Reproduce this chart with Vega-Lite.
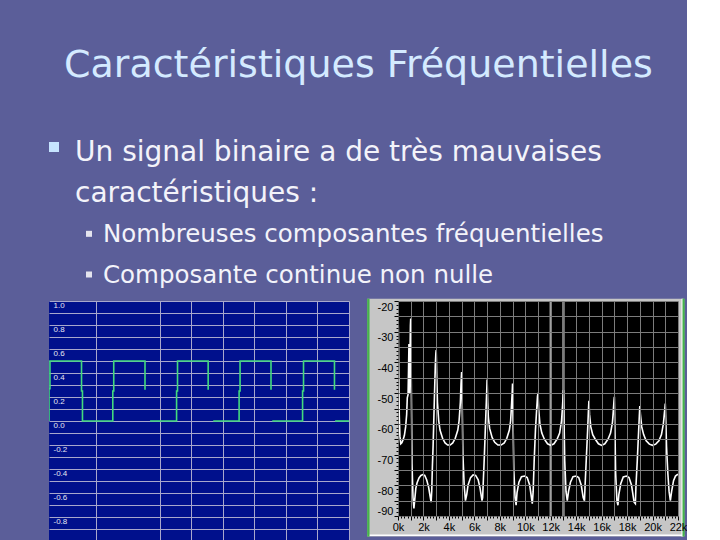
{
  "$schema": "https://vega.github.io/schema/vega-lite/v6.json",
  "background": "#5b5e99",
  "padding": {"left": 49, "top": 47, "right": 0, "bottom": 0},
  "title": {"text": "Caractéristiques Fréquentielles", "font": "DejaVu Sans", "fontSize": 38, "fontWeight": "normal", "color": "#d4eaff", "anchor": "start", "align": "left", "dx": 15, "offset": 52, "frame": "group"},
  "config": {"view": {"stroke": null}},
  "spacing": 7,
  "vconcat": [
    {
      "width": 28,
      "height": 153,
      "data": {"values": [
        {"line": "l1", "level": "1", "text": "Un signal binaire a de très mauvaises", "bullet": true},
        {"line": "l2", "level": "1", "text": "caractéristiques :", "bullet": false},
        {"line": "l3", "level": "2", "text": "Nombreuses composantes fréquentielles", "bullet": true},
        {"line": "l4", "level": "2", "text": "Composante continue non nulle", "bullet": true}
      ]},
      "encoding": {
        "x": {"field": "level", "type": "nominal", "scale": {"type": "point", "domain": ["1", "2"], "padding": 0}, "axis": null},
        "y": {"field": "line", "type": "nominal", "scale": {"type": "point", "domain": ["l1", "l2", "l3", "l4"], "padding": 0.381, "align": 0.774}, "axis": null}
      },
      "layer": [
        {"transform": [{"filter": "datum.level == '1'"}], "mark": {"type": "text", "align": "left", "baseline": "alphabetic", "font": "DejaVu Sans", "fontSize": 28, "color": "#f3f3fa", "xOffset": 26}, "encoding": {"text": {"field": "text"}}},
        {"transform": [{"filter": "datum.level == '2'"}], "mark": {"type": "text", "align": "left", "baseline": "alphabetic", "font": "DejaVu Sans", "fontSize": 24.5, "color": "#f3f3fa", "xOffset": 26}, "encoding": {"text": {"field": "text"}}},
        {"transform": [{"filter": "datum.level == '1' && datum.bullet"}], "mark": {"type": "point", "shape": "square", "filled": true, "size": 100, "color": "#c6e4ff", "opacity": 1, "xOffset": 5, "yOffset": -14}},
        {"transform": [{"filter": "datum.level == '2' && datum.bullet"}], "mark": {"type": "point", "shape": "square", "filled": true, "size": 36, "color": "#e4e4ee", "opacity": 1, "xOffset": 12, "yOffset": -8.5}}
      ]
    },
    {
      "spacing": 17,
      "hconcat": [
        {
          "width": 300,
          "height": 240,
          "view": {"fill": "#00108c", "stroke": null},
          "data": {"values": [
            {"t": 0, "v": 0, "seg": 1, "i": 0},
            {"t": 0, "v": 0.27, "seg": 1, "i": 1},
            {"t": 0.03, "v": 0.27, "seg": 1, "i": 2},
            {"t": 0.03, "v": 0.5, "seg": 1, "i": 3},
            {"t": 1.03, "v": 0.5, "seg": 1, "i": 4},
            {"t": 1.03, "v": 0.25, "seg": 1, "i": 5},
            {"t": 1.06, "v": 0.25, "seg": 1, "i": 6},
            {"t": 1.06, "v": 0, "seg": 1, "i": 7},
            {"t": 2.02, "v": 0, "seg": 1, "i": 8},
            {"t": 2.02, "v": 0.25, "seg": 1, "i": 9},
            {"t": 2.05, "v": 0.25, "seg": 1, "i": 10},
            {"t": 2.05, "v": 0.5, "seg": 1, "i": 11},
            {"t": 3.04, "v": 0.5, "seg": 1, "i": 12},
            {"t": 3.04, "v": 0.26, "seg": 1, "i": 13},
            {"t": 3.2, "v": 0, "seg": 2, "i": 14},
            {"t": 4.04, "v": 0, "seg": 2, "i": 15},
            {"t": 4.04, "v": 0.25, "seg": 2, "i": 16},
            {"t": 4.07, "v": 0.25, "seg": 2, "i": 17},
            {"t": 4.07, "v": 0.5, "seg": 2, "i": 18},
            {"t": 5.04, "v": 0.5, "seg": 2, "i": 19},
            {"t": 5.04, "v": 0.26, "seg": 2, "i": 20},
            {"t": 5.2, "v": 0, "seg": 3, "i": 21},
            {"t": 6.02, "v": 0, "seg": 3, "i": 22},
            {"t": 6.02, "v": 0.25, "seg": 3, "i": 23},
            {"t": 6.05, "v": 0.25, "seg": 3, "i": 24},
            {"t": 6.05, "v": 0.5, "seg": 3, "i": 25},
            {"t": 7.03, "v": 0.5, "seg": 3, "i": 26},
            {"t": 7.03, "v": 0.26, "seg": 3, "i": 27},
            {"t": 7.07, "v": 0, "seg": 4, "i": 28},
            {"t": 8.03, "v": 0, "seg": 4, "i": 29},
            {"t": 8.03, "v": 0.25, "seg": 4, "i": 30},
            {"t": 8.06, "v": 0.25, "seg": 4, "i": 31},
            {"t": 8.06, "v": 0.5, "seg": 4, "i": 32},
            {"t": 9.04, "v": 0.5, "seg": 4, "i": 33},
            {"t": 9.04, "v": 0.26, "seg": 4, "i": 34},
            {"t": 9.06, "v": 0, "seg": 5, "i": 35},
            {"t": 9.5, "v": 0, "seg": 5, "i": 36}
          ]},
          "mark": {"type": "line", "color": "#42da7e", "strokeWidth": 1.6, "clip": true},
          "encoding": {
            "x": {"field": "t", "type": "quantitative", "scale": {"domain": [0, 9.5], "nice": false, "zero": false},
                  "axis": {"values": [1.5, 3.5, 4.5, 5.5, 6.5, 7.5, 8.5, 9.5], "grid": true, "gridColor": "#a8a8cc", "gridWidth": 1, "labels": false, "ticks": false, "domain": false, "title": null}},
            "y": {"field": "v", "type": "quantitative", "scale": {"domain": [-1, 1], "nice": false, "zero": false},
                  "axis": {"values": [-1, -0.9, -0.8, -0.7, -0.6, -0.5, -0.4, -0.3, -0.2, -0.1, 0, 0.1, 0.2, 0.3, 0.4, 0.5, 0.6, 0.7, 0.8, 0.9, 1],
                           "grid": true, "gridColor": "#a8a8cc", "gridWidth": 1, "ticks": false, "tickSize": 0, "domain": false, "title": null,
                           "labelAlign": "left", "labelBaseline": "top", "labelPadding": -4, "labelFont": "Liberation Sans", "labelFontSize": 8, "labelColor": "#e6e6f2", "labelOverlap": false, "labelFlush": false,
                           "labelExpr": "(round(abs(datum.value) * 10) % 2 == 0 && datum.value > -0.95) ? ((datum.value < -0.001 ? '-' : '') + format(abs(datum.value), '.1f')) : ''"}},
            "detail": {"field": "seg"},
            "order": {"field": "i"}
          }
        },
        {
          "width": 280,
          "height": 215,
          "layer": [
            {
              "data": {"values": [{}]},
              "mark": {"type": "rect", "color": "#c6c6c6"},
              "encoding": {
                "x": {"datum": -2412, "type": "quantitative", "scale": {"domain": [0, 22000], "nice": false, "zero": false},
                      "axis": {"values": [0,250,500,750,1000,1250,1500,1750,2000,2250,2500,2750,3000,3250,3500,3750,4000,4250,4500,4750,5000,5250,5500,5750,6000,6250,6500,6750,7000,7250,7500,7750,8000,8250,8500,8750,9000,9250,9500,9750,10000,10250,10500,10750,11000,11250,11500,11750,12000,12250,12500,12750,13000,13250,13500,13750,14000,14250,14500,14750,15000,15250,15500,15750,16000,16250,16500,16750,17000,17250,17500,17750,18000,18250,18500,18750,19000,19250,19500,19750,20000,20250,20500,20750,21000,21250,21500,21750,22000], "grid": true, "gridColor": "#7c7c7c", "gridWidth": 1, "gridOpacity": {"condition": {"test": "datum.value % 1000 == 0", "value": 1}, "value": 0}, "ticks": true, "tickColor": "#000000", "tickSize": {"condition": {"test": "datum.value % 1000 == 0", "value": 4}, "value": 2}, "domain": false, "title": null, "labelExpr": "datum.value % 2000 == 0 ? (datum.value / 1000) + 'k' : ''", "labelFont": "Liberation Sans", "labelFontSize": 11, "labelColor": "#000000", "labelPadding": 1, "labelOverlap": false, "labelFlush": false, "zindex": 1}},
                "x2": {"datum": 22495},
                "y": {"datum": -19.25, "type": "quantitative", "scale": {"domain": [-90, -20], "nice": false, "zero": false},
                      "axis": {"values": [-90,-88.75,-87.5,-86.25,-85,-83.75,-82.5,-81.25,-80,-78.75,-77.5,-76.25,-75,-73.75,-72.5,-71.25,-70,-68.75,-67.5,-66.25,-65,-63.75,-62.5,-61.25,-60,-58.75,-57.5,-56.25,-55,-53.75,-52.5,-51.25,-50,-48.75,-47.5,-46.25,-45,-43.75,-42.5,-41.25,-40,-38.75,-37.5,-36.25,-35,-33.75,-32.5,-31.25,-30,-28.75,-27.5,-26.25,-25,-23.75,-22.5,-21.25,-20], "grid": true, "gridColor": "#7c7c7c", "gridWidth": 1, "gridOpacity": {"condition": {"test": "datum.value % 5 == 0", "value": 1}, "value": 0}, "ticks": true, "tickColor": "#000000", "tickSize": {"condition": {"test": "datum.value % 5 == 0", "value": 4}, "value": 2}, "domain": false, "title": null, "labelExpr": "datum.value % 10 == 0 ? '-' + abs(datum.value) : ''", "labelBaseline": {"condition": {"test": "datum.value <= -89", "value": "bottom"}, "value": "top"}, "labelFont": "Liberation Sans", "labelFontSize": 11, "labelColor": "#000000", "labelPadding": 1, "labelOverlap": false, "labelFlush": false, "zindex": 1}},
                "y2": {"datum": -96.7}
              }
            },
            {
              "data": {"values": [{}]},
              "mark": {"type": "rule", "color": "#ffffff", "strokeWidth": 1.5},
              "encoding": {
                "x": {"datum": -2412, "type": "quantitative", "scale": {"domain": [0, 22000], "nice": false, "zero": false},
                      "axis": {"values": [0,250,500,750,1000,1250,1500,1750,2000,2250,2500,2750,3000,3250,3500,3750,4000,4250,4500,4750,5000,5250,5500,5750,6000,6250,6500,6750,7000,7250,7500,7750,8000,8250,8500,8750,9000,9250,9500,9750,10000,10250,10500,10750,11000,11250,11500,11750,12000,12250,12500,12750,13000,13250,13500,13750,14000,14250,14500,14750,15000,15250,15500,15750,16000,16250,16500,16750,17000,17250,17500,17750,18000,18250,18500,18750,19000,19250,19500,19750,20000,20250,20500,20750,21000,21250,21500,21750,22000], "grid": true, "gridColor": "#7c7c7c", "gridWidth": 1, "gridOpacity": {"condition": {"test": "datum.value % 1000 == 0", "value": 1}, "value": 0}, "ticks": true, "tickColor": "#000000", "tickSize": {"condition": {"test": "datum.value % 1000 == 0", "value": 4}, "value": 2}, "domain": false, "title": null, "labelExpr": "datum.value % 2000 == 0 ? (datum.value / 1000) + 'k' : ''", "labelFont": "Liberation Sans", "labelFontSize": 11, "labelColor": "#000000", "labelPadding": 1, "labelOverlap": false, "labelFlush": false, "zindex": 1}},
                "x2": {"datum": 22495},
                "y": {"datum": -96.3, "type": "quantitative", "scale": {"domain": [-90, -20], "nice": false, "zero": false},
                      "axis": {"values": [-90,-88.75,-87.5,-86.25,-85,-83.75,-82.5,-81.25,-80,-78.75,-77.5,-76.25,-75,-73.75,-72.5,-71.25,-70,-68.75,-67.5,-66.25,-65,-63.75,-62.5,-61.25,-60,-58.75,-57.5,-56.25,-55,-53.75,-52.5,-51.25,-50,-48.75,-47.5,-46.25,-45,-43.75,-42.5,-41.25,-40,-38.75,-37.5,-36.25,-35,-33.75,-32.5,-31.25,-30,-28.75,-27.5,-26.25,-25,-23.75,-22.5,-21.25,-20], "grid": true, "gridColor": "#7c7c7c", "gridWidth": 1, "gridOpacity": {"condition": {"test": "datum.value % 5 == 0", "value": 1}, "value": 0}, "ticks": true, "tickColor": "#000000", "tickSize": {"condition": {"test": "datum.value % 5 == 0", "value": 4}, "value": 2}, "domain": false, "title": null, "labelExpr": "datum.value % 10 == 0 ? '-' + abs(datum.value) : ''", "labelBaseline": {"condition": {"test": "datum.value <= -89", "value": "bottom"}, "value": "top"}, "labelFont": "Liberation Sans", "labelFontSize": 11, "labelColor": "#000000", "labelPadding": 1, "labelOverlap": false, "labelFlush": false, "zindex": 1}}
              }
            },
            {
              "data": {"values": [{}]},
              "mark": {"type": "rule", "color": "#ffffff", "strokeWidth": 1.5},
              "encoding": {
                "x": {"datum": 22330, "type": "quantitative", "scale": {"domain": [0, 22000], "nice": false, "zero": false},
                      "axis": {"values": [0,250,500,750,1000,1250,1500,1750,2000,2250,2500,2750,3000,3250,3500,3750,4000,4250,4500,4750,5000,5250,5500,5750,6000,6250,6500,6750,7000,7250,7500,7750,8000,8250,8500,8750,9000,9250,9500,9750,10000,10250,10500,10750,11000,11250,11500,11750,12000,12250,12500,12750,13000,13250,13500,13750,14000,14250,14500,14750,15000,15250,15500,15750,16000,16250,16500,16750,17000,17250,17500,17750,18000,18250,18500,18750,19000,19250,19500,19750,20000,20250,20500,20750,21000,21250,21500,21750,22000], "grid": true, "gridColor": "#7c7c7c", "gridWidth": 1, "gridOpacity": {"condition": {"test": "datum.value % 1000 == 0", "value": 1}, "value": 0}, "ticks": true, "tickColor": "#000000", "tickSize": {"condition": {"test": "datum.value % 1000 == 0", "value": 4}, "value": 2}, "domain": false, "title": null, "labelExpr": "datum.value % 2000 == 0 ? (datum.value / 1000) + 'k' : ''", "labelFont": "Liberation Sans", "labelFontSize": 11, "labelColor": "#000000", "labelPadding": 1, "labelOverlap": false, "labelFlush": false, "zindex": 1}},
                "y": {"datum": -19.25, "type": "quantitative", "scale": {"domain": [-90, -20], "nice": false, "zero": false},
                      "axis": {"values": [-90,-88.75,-87.5,-86.25,-85,-83.75,-82.5,-81.25,-80,-78.75,-77.5,-76.25,-75,-73.75,-72.5,-71.25,-70,-68.75,-67.5,-66.25,-65,-63.75,-62.5,-61.25,-60,-58.75,-57.5,-56.25,-55,-53.75,-52.5,-51.25,-50,-48.75,-47.5,-46.25,-45,-43.75,-42.5,-41.25,-40,-38.75,-37.5,-36.25,-35,-33.75,-32.5,-31.25,-30,-28.75,-27.5,-26.25,-25,-23.75,-22.5,-21.25,-20], "grid": true, "gridColor": "#7c7c7c", "gridWidth": 1, "gridOpacity": {"condition": {"test": "datum.value % 5 == 0", "value": 1}, "value": 0}, "ticks": true, "tickColor": "#000000", "tickSize": {"condition": {"test": "datum.value % 5 == 0", "value": 4}, "value": 2}, "domain": false, "title": null, "labelExpr": "datum.value % 10 == 0 ? '-' + abs(datum.value) : ''", "labelBaseline": {"condition": {"test": "datum.value <= -89", "value": "bottom"}, "value": "top"}, "labelFont": "Liberation Sans", "labelFontSize": 11, "labelColor": "#000000", "labelPadding": 1, "labelOverlap": false, "labelFlush": false, "zindex": 1}},
                "y2": {"datum": -96.7}
              }
            },
            {
              "data": {"values": [{}]},
              "mark": {"type": "rule", "color": "#46b34c", "strokeWidth": 2.2},
              "encoding": {
                "x": {"datum": 22440, "type": "quantitative", "scale": {"domain": [0, 22000], "nice": false, "zero": false},
                      "axis": {"values": [0,250,500,750,1000,1250,1500,1750,2000,2250,2500,2750,3000,3250,3500,3750,4000,4250,4500,4750,5000,5250,5500,5750,6000,6250,6500,6750,7000,7250,7500,7750,8000,8250,8500,8750,9000,9250,9500,9750,10000,10250,10500,10750,11000,11250,11500,11750,12000,12250,12500,12750,13000,13250,13500,13750,14000,14250,14500,14750,15000,15250,15500,15750,16000,16250,16500,16750,17000,17250,17500,17750,18000,18250,18500,18750,19000,19250,19500,19750,20000,20250,20500,20750,21000,21250,21500,21750,22000], "grid": true, "gridColor": "#7c7c7c", "gridWidth": 1, "gridOpacity": {"condition": {"test": "datum.value % 1000 == 0", "value": 1}, "value": 0}, "ticks": true, "tickColor": "#000000", "tickSize": {"condition": {"test": "datum.value % 1000 == 0", "value": 4}, "value": 2}, "domain": false, "title": null, "labelExpr": "datum.value % 2000 == 0 ? (datum.value / 1000) + 'k' : ''", "labelFont": "Liberation Sans", "labelFontSize": 11, "labelColor": "#000000", "labelPadding": 1, "labelOverlap": false, "labelFlush": false, "zindex": 1}},
                "y": {"datum": -19.25, "type": "quantitative", "scale": {"domain": [-90, -20], "nice": false, "zero": false},
                      "axis": {"values": [-90,-88.75,-87.5,-86.25,-85,-83.75,-82.5,-81.25,-80,-78.75,-77.5,-76.25,-75,-73.75,-72.5,-71.25,-70,-68.75,-67.5,-66.25,-65,-63.75,-62.5,-61.25,-60,-58.75,-57.5,-56.25,-55,-53.75,-52.5,-51.25,-50,-48.75,-47.5,-46.25,-45,-43.75,-42.5,-41.25,-40,-38.75,-37.5,-36.25,-35,-33.75,-32.5,-31.25,-30,-28.75,-27.5,-26.25,-25,-23.75,-22.5,-21.25,-20], "grid": true, "gridColor": "#7c7c7c", "gridWidth": 1, "gridOpacity": {"condition": {"test": "datum.value % 5 == 0", "value": 1}, "value": 0}, "ticks": true, "tickColor": "#000000", "tickSize": {"condition": {"test": "datum.value % 5 == 0", "value": 4}, "value": 2}, "domain": false, "title": null, "labelExpr": "datum.value % 10 == 0 ? '-' + abs(datum.value) : ''", "labelBaseline": {"condition": {"test": "datum.value <= -89", "value": "bottom"}, "value": "top"}, "labelFont": "Liberation Sans", "labelFontSize": 11, "labelColor": "#000000", "labelPadding": 1, "labelOverlap": false, "labelFlush": false, "zindex": 1}},
                "y2": {"datum": -96.7}
              }
            },
            {
              "data": {"values": [{}]},
              "mark": {"type": "rule", "color": "#46b34c", "strokeWidth": 2.4},
              "encoding": {
                "x": {"datum": -2330, "type": "quantitative", "scale": {"domain": [0, 22000], "nice": false, "zero": false},
                      "axis": {"values": [0,250,500,750,1000,1250,1500,1750,2000,2250,2500,2750,3000,3250,3500,3750,4000,4250,4500,4750,5000,5250,5500,5750,6000,6250,6500,6750,7000,7250,7500,7750,8000,8250,8500,8750,9000,9250,9500,9750,10000,10250,10500,10750,11000,11250,11500,11750,12000,12250,12500,12750,13000,13250,13500,13750,14000,14250,14500,14750,15000,15250,15500,15750,16000,16250,16500,16750,17000,17250,17500,17750,18000,18250,18500,18750,19000,19250,19500,19750,20000,20250,20500,20750,21000,21250,21500,21750,22000], "grid": true, "gridColor": "#7c7c7c", "gridWidth": 1, "gridOpacity": {"condition": {"test": "datum.value % 1000 == 0", "value": 1}, "value": 0}, "ticks": true, "tickColor": "#000000", "tickSize": {"condition": {"test": "datum.value % 1000 == 0", "value": 4}, "value": 2}, "domain": false, "title": null, "labelExpr": "datum.value % 2000 == 0 ? (datum.value / 1000) + 'k' : ''", "labelFont": "Liberation Sans", "labelFontSize": 11, "labelColor": "#000000", "labelPadding": 1, "labelOverlap": false, "labelFlush": false, "zindex": 1}},
                "y": {"datum": -19.25, "type": "quantitative", "scale": {"domain": [-90, -20], "nice": false, "zero": false},
                      "axis": {"values": [-90,-88.75,-87.5,-86.25,-85,-83.75,-82.5,-81.25,-80,-78.75,-77.5,-76.25,-75,-73.75,-72.5,-71.25,-70,-68.75,-67.5,-66.25,-65,-63.75,-62.5,-61.25,-60,-58.75,-57.5,-56.25,-55,-53.75,-52.5,-51.25,-50,-48.75,-47.5,-46.25,-45,-43.75,-42.5,-41.25,-40,-38.75,-37.5,-36.25,-35,-33.75,-32.5,-31.25,-30,-28.75,-27.5,-26.25,-25,-23.75,-22.5,-21.25,-20], "grid": true, "gridColor": "#7c7c7c", "gridWidth": 1, "gridOpacity": {"condition": {"test": "datum.value % 5 == 0", "value": 1}, "value": 0}, "ticks": true, "tickColor": "#000000", "tickSize": {"condition": {"test": "datum.value % 5 == 0", "value": 4}, "value": 2}, "domain": false, "title": null, "labelExpr": "datum.value % 10 == 0 ? '-' + abs(datum.value) : ''", "labelBaseline": {"condition": {"test": "datum.value <= -89", "value": "bottom"}, "value": "top"}, "labelFont": "Liberation Sans", "labelFontSize": 11, "labelColor": "#000000", "labelPadding": 1, "labelOverlap": false, "labelFlush": false, "zindex": 1}},
                "y2": {"datum": -96.7}
              }
            },
            {
              "data": {"values": [{}]},
              "mark": {"type": "rect", "color": "#000000"},
              "encoding": {
                "x": {"datum": 0, "type": "quantitative", "scale": {"domain": [0, 22000], "nice": false, "zero": false},
                      "axis": {"values": [0,250,500,750,1000,1250,1500,1750,2000,2250,2500,2750,3000,3250,3500,3750,4000,4250,4500,4750,5000,5250,5500,5750,6000,6250,6500,6750,7000,7250,7500,7750,8000,8250,8500,8750,9000,9250,9500,9750,10000,10250,10500,10750,11000,11250,11500,11750,12000,12250,12500,12750,13000,13250,13500,13750,14000,14250,14500,14750,15000,15250,15500,15750,16000,16250,16500,16750,17000,17250,17500,17750,18000,18250,18500,18750,19000,19250,19500,19750,20000,20250,20500,20750,21000,21250,21500,21750,22000], "grid": true, "gridColor": "#7c7c7c", "gridWidth": 1, "gridOpacity": {"condition": {"test": "datum.value % 1000 == 0", "value": 1}, "value": 0}, "ticks": true, "tickColor": "#000000", "tickSize": {"condition": {"test": "datum.value % 1000 == 0", "value": 4}, "value": 2}, "domain": false, "title": null, "labelExpr": "datum.value % 2000 == 0 ? (datum.value / 1000) + 'k' : ''", "labelFont": "Liberation Sans", "labelFontSize": 11, "labelColor": "#000000", "labelPadding": 1, "labelOverlap": false, "labelFlush": false, "zindex": 1}},
                "x2": {"datum": 22000},
                "y": {"datum": -90, "type": "quantitative", "scale": {"domain": [-90, -20], "nice": false, "zero": false},
                      "axis": {"values": [-90,-88.75,-87.5,-86.25,-85,-83.75,-82.5,-81.25,-80,-78.75,-77.5,-76.25,-75,-73.75,-72.5,-71.25,-70,-68.75,-67.5,-66.25,-65,-63.75,-62.5,-61.25,-60,-58.75,-57.5,-56.25,-55,-53.75,-52.5,-51.25,-50,-48.75,-47.5,-46.25,-45,-43.75,-42.5,-41.25,-40,-38.75,-37.5,-36.25,-35,-33.75,-32.5,-31.25,-30,-28.75,-27.5,-26.25,-25,-23.75,-22.5,-21.25,-20], "grid": true, "gridColor": "#7c7c7c", "gridWidth": 1, "gridOpacity": {"condition": {"test": "datum.value % 5 == 0", "value": 1}, "value": 0}, "ticks": true, "tickColor": "#000000", "tickSize": {"condition": {"test": "datum.value % 5 == 0", "value": 4}, "value": 2}, "domain": false, "title": null, "labelExpr": "datum.value % 10 == 0 ? '-' + abs(datum.value) : ''", "labelBaseline": {"condition": {"test": "datum.value <= -89", "value": "bottom"}, "value": "top"}, "labelFont": "Liberation Sans", "labelFontSize": 11, "labelColor": "#000000", "labelPadding": 1, "labelOverlap": false, "labelFlush": false, "zindex": 1}},
                "y2": {"datum": -20}
              }
            },
            {
              "data": {"values": [{"f": 12000}, {"f": 13000}]},
              "mark": {"type": "rule", "color": "#a0a0a0", "strokeWidth": 2.4},
              "encoding": {
                "x": {"field": "f", "type": "quantitative", "scale": {"domain": [0, 22000], "nice": false, "zero": false},
                      "axis": {"values": [0,250,500,750,1000,1250,1500,1750,2000,2250,2500,2750,3000,3250,3500,3750,4000,4250,4500,4750,5000,5250,5500,5750,6000,6250,6500,6750,7000,7250,7500,7750,8000,8250,8500,8750,9000,9250,9500,9750,10000,10250,10500,10750,11000,11250,11500,11750,12000,12250,12500,12750,13000,13250,13500,13750,14000,14250,14500,14750,15000,15250,15500,15750,16000,16250,16500,16750,17000,17250,17500,17750,18000,18250,18500,18750,19000,19250,19500,19750,20000,20250,20500,20750,21000,21250,21500,21750,22000], "grid": true, "gridColor": "#7c7c7c", "gridWidth": 1, "gridOpacity": {"condition": {"test": "datum.value % 1000 == 0", "value": 1}, "value": 0}, "ticks": true, "tickColor": "#000000", "tickSize": {"condition": {"test": "datum.value % 1000 == 0", "value": 4}, "value": 2}, "domain": false, "title": null, "labelExpr": "datum.value % 2000 == 0 ? (datum.value / 1000) + 'k' : ''", "labelFont": "Liberation Sans", "labelFontSize": 11, "labelColor": "#000000", "labelPadding": 1, "labelOverlap": false, "labelFlush": false, "zindex": 1}},
                "y": {"datum": -20, "type": "quantitative", "scale": {"domain": [-90, -20], "nice": false, "zero": false},
                      "axis": {"values": [-90,-88.75,-87.5,-86.25,-85,-83.75,-82.5,-81.25,-80,-78.75,-77.5,-76.25,-75,-73.75,-72.5,-71.25,-70,-68.75,-67.5,-66.25,-65,-63.75,-62.5,-61.25,-60,-58.75,-57.5,-56.25,-55,-53.75,-52.5,-51.25,-50,-48.75,-47.5,-46.25,-45,-43.75,-42.5,-41.25,-40,-38.75,-37.5,-36.25,-35,-33.75,-32.5,-31.25,-30,-28.75,-27.5,-26.25,-25,-23.75,-22.5,-21.25,-20], "grid": true, "gridColor": "#7c7c7c", "gridWidth": 1, "gridOpacity": {"condition": {"test": "datum.value % 5 == 0", "value": 1}, "value": 0}, "ticks": true, "tickColor": "#000000", "tickSize": {"condition": {"test": "datum.value % 5 == 0", "value": 4}, "value": 2}, "domain": false, "title": null, "labelExpr": "datum.value % 10 == 0 ? '-' + abs(datum.value) : ''", "labelBaseline": {"condition": {"test": "datum.value <= -89", "value": "bottom"}, "value": "top"}, "labelFont": "Liberation Sans", "labelFontSize": 11, "labelColor": "#000000", "labelPadding": 1, "labelOverlap": false, "labelFlush": false, "zindex": 1}},
                "y2": {"datum": -90}
              }
            },
            {
              "data": {"values": [
                {"f": 0, "db": -23}, {"f": 30, "db": -30}, {"f": 60, "db": -41}, {"f": 100, "db": -57}, {"f": 150, "db": -64}, {"f": 220, "db": -66.5}, {"f": 300, "db": -66.2}, {"f": 400, "db": -65.2}, {"f": 500, "db": -63.8}, {"f": 600, "db": -61}, {"f": 680, "db": -57}, {"f": 730, "db": -51.5}, {"f": 790, "db": -50.5}, {"f": 830, "db": -42}, {"f": 860, "db": -34}, {"f": 885, "db": -45}, {"f": 915, "db": -50}, {"f": 945, "db": -37}, {"f": 975, "db": -28}, {"f": 1000, "db": -25.7},
                {"f": 1040, "db": -45}, {"f": 1070, "db": -58}, {"f": 1100, "db": -73}, {"f": 1180, "db": -84}, {"f": 1250, "db": -87.5}, {"f": 1320, "db": -84.5}, {"f": 1400, "db": -81}, {"f": 1500, "db": -79.2}, {"f": 1650, "db": -77.6}, {"f": 1800, "db": -76.8}, {"f": 1950, "db": -76.5}, {"f": 2100, "db": -76.8}, {"f": 2250, "db": -78.2}, {"f": 2400, "db": -80.5}, {"f": 2500, "db": -83}, {"f": 2600, "db": -85.5}, {"f": 2650, "db": -82}, {"f": 2700, "db": -74}, {"f": 2760, "db": -67}, {"f": 2850, "db": -53}, {"f": 2930, "db": -41}, {"f": 2975, "db": -37}, {"f": 3000, "db": -36},
                {"f": 3050, "db": -45}, {"f": 3100, "db": -53}, {"f": 3200, "db": -59}, {"f": 3300, "db": -62}, {"f": 3500, "db": -64.7}, {"f": 3700, "db": -66.2}, {"f": 3900, "db": -66.9}, {"f": 4100, "db": -66.9}, {"f": 4300, "db": -66.2}, {"f": 4500, "db": -64.7}, {"f": 4700, "db": -62}, {"f": 4800, "db": -59}, {"f": 4900, "db": -53}, {"f": 4950, "db": -47}, {"f": 5000, "db": -43.1},
                {"f": 5050, "db": -55}, {"f": 5100, "db": -70}, {"f": 5200, "db": -80}, {"f": 5300, "db": -85}, {"f": 5400, "db": -83}, {"f": 5500, "db": -80}, {"f": 5700, "db": -77.5}, {"f": 5900, "db": -76.6}, {"f": 6100, "db": -76.8}, {"f": 6300, "db": -78.2}, {"f": 6450, "db": -81}, {"f": 6600, "db": -85}, {"f": 6650, "db": -84}, {"f": 6700, "db": -79}, {"f": 6780, "db": -71}, {"f": 6850, "db": -63}, {"f": 6920, "db": -55}, {"f": 6970, "db": -49.5}, {"f": 7000, "db": -45.6},
                {"f": 7050, "db": -53}, {"f": 7100, "db": -58}, {"f": 7200, "db": -61.5}, {"f": 7400, "db": -64.5}, {"f": 7600, "db": -66}, {"f": 7850, "db": -66.9}, {"f": 8100, "db": -66.9}, {"f": 8350, "db": -66.2}, {"f": 8550, "db": -64.7}, {"f": 8750, "db": -62}, {"f": 8850, "db": -59}, {"f": 8930, "db": -53}, {"f": 8970, "db": -50}, {"f": 9000, "db": -46.9},
                {"f": 9050, "db": -62}, {"f": 9100, "db": -75}, {"f": 9200, "db": -84}, {"f": 9280, "db": -86.5}, {"f": 9350, "db": -82.5}, {"f": 9500, "db": -79}, {"f": 9700, "db": -77.2}, {"f": 9950, "db": -77}, {"f": 10150, "db": -77.5}, {"f": 10350, "db": -80}, {"f": 10550, "db": -86}, {"f": 10620, "db": -82}, {"f": 10700, "db": -72}, {"f": 10800, "db": -62}, {"f": 10900, "db": -55}, {"f": 10960, "db": -51}, {"f": 11000, "db": -49.9},
                {"f": 11050, "db": -55}, {"f": 11150, "db": -60}, {"f": 11300, "db": -63}, {"f": 11500, "db": -65}, {"f": 11750, "db": -66.5}, {"f": 12000, "db": -67}, {"f": 12250, "db": -66.5}, {"f": 12500, "db": -65}, {"f": 12700, "db": -63}, {"f": 12850, "db": -59}, {"f": 12930, "db": -54}, {"f": 12970, "db": -51}, {"f": 13000, "db": -49},
                {"f": 13050, "db": -60}, {"f": 13100, "db": -72}, {"f": 13200, "db": -82}, {"f": 13300, "db": -85}, {"f": 13400, "db": -82}, {"f": 13550, "db": -79}, {"f": 13750, "db": -77.2}, {"f": 14000, "db": -77}, {"f": 14200, "db": -77.5}, {"f": 14400, "db": -80}, {"f": 14550, "db": -84}, {"f": 14650, "db": -85}, {"f": 14700, "db": -80}, {"f": 14800, "db": -71}, {"f": 14900, "db": -62}, {"f": 14960, "db": -56}, {"f": 15000, "db": -52.5},
                {"f": 15050, "db": -57}, {"f": 15150, "db": -61}, {"f": 15300, "db": -63.5}, {"f": 15500, "db": -65}, {"f": 15750, "db": -66.5}, {"f": 16000, "db": -67}, {"f": 16250, "db": -66.5}, {"f": 16500, "db": -65}, {"f": 16700, "db": -63}, {"f": 16850, "db": -59.5}, {"f": 16930, "db": -55}, {"f": 16970, "db": -52.5}, {"f": 17000, "db": -51.2},
                {"f": 17050, "db": -63}, {"f": 17100, "db": -76}, {"f": 17200, "db": -85}, {"f": 17280, "db": -86.5}, {"f": 17350, "db": -83}, {"f": 17500, "db": -79.5}, {"f": 17700, "db": -77.3}, {"f": 17950, "db": -77}, {"f": 18150, "db": -77.5}, {"f": 18350, "db": -80}, {"f": 18550, "db": -85.5}, {"f": 18650, "db": -86}, {"f": 18700, "db": -80}, {"f": 18800, "db": -72}, {"f": 18900, "db": -63}, {"f": 18960, "db": -57.5}, {"f": 19000, "db": -54.2},
                {"f": 19050, "db": -57}, {"f": 19150, "db": -61}, {"f": 19300, "db": -63.5}, {"f": 19500, "db": -65.5}, {"f": 19750, "db": -66.6}, {"f": 20000, "db": -67}, {"f": 20250, "db": -66.6}, {"f": 20500, "db": -65.5}, {"f": 20700, "db": -63.5}, {"f": 20850, "db": -60}, {"f": 20930, "db": -56.5}, {"f": 20970, "db": -55}, {"f": 21000, "db": -53.4},
                {"f": 21050, "db": -60}, {"f": 21100, "db": -67.5}, {"f": 21200, "db": -76}, {"f": 21300, "db": -82}, {"f": 21400, "db": -85}, {"f": 21500, "db": -82}, {"f": 21650, "db": -78.5}, {"f": 21800, "db": -77}, {"f": 21950, "db": -76.5}, {"f": 22000, "db": -76.5}
              ]},
              "mark": {"type": "line", "color": "#ffffff", "strokeWidth": 1.6, "clip": true},
              "encoding": {
                "x": {"field": "f", "type": "quantitative", "scale": {"domain": [0, 22000], "nice": false, "zero": false},
                      "axis": {"values": [0,250,500,750,1000,1250,1500,1750,2000,2250,2500,2750,3000,3250,3500,3750,4000,4250,4500,4750,5000,5250,5500,5750,6000,6250,6500,6750,7000,7250,7500,7750,8000,8250,8500,8750,9000,9250,9500,9750,10000,10250,10500,10750,11000,11250,11500,11750,12000,12250,12500,12750,13000,13250,13500,13750,14000,14250,14500,14750,15000,15250,15500,15750,16000,16250,16500,16750,17000,17250,17500,17750,18000,18250,18500,18750,19000,19250,19500,19750,20000,20250,20500,20750,21000,21250,21500,21750,22000], "grid": true, "gridColor": "#7c7c7c", "gridWidth": 1, "gridOpacity": {"condition": {"test": "datum.value % 1000 == 0", "value": 1}, "value": 0}, "ticks": true, "tickColor": "#000000", "tickSize": {"condition": {"test": "datum.value % 1000 == 0", "value": 4}, "value": 2}, "domain": false, "title": null, "labelExpr": "datum.value % 2000 == 0 ? (datum.value / 1000) + 'k' : ''", "labelFont": "Liberation Sans", "labelFontSize": 11, "labelColor": "#000000", "labelPadding": 1, "labelOverlap": false, "labelFlush": false, "zindex": 1}},
                "y": {"field": "db", "type": "quantitative", "scale": {"domain": [-90, -20], "nice": false, "zero": false},
                      "axis": {"values": [-90,-88.75,-87.5,-86.25,-85,-83.75,-82.5,-81.25,-80,-78.75,-77.5,-76.25,-75,-73.75,-72.5,-71.25,-70,-68.75,-67.5,-66.25,-65,-63.75,-62.5,-61.25,-60,-58.75,-57.5,-56.25,-55,-53.75,-52.5,-51.25,-50,-48.75,-47.5,-46.25,-45,-43.75,-42.5,-41.25,-40,-38.75,-37.5,-36.25,-35,-33.75,-32.5,-31.25,-30,-28.75,-27.5,-26.25,-25,-23.75,-22.5,-21.25,-20], "grid": true, "gridColor": "#7c7c7c", "gridWidth": 1, "gridOpacity": {"condition": {"test": "datum.value % 5 == 0", "value": 1}, "value": 0}, "ticks": true, "tickColor": "#000000", "tickSize": {"condition": {"test": "datum.value % 5 == 0", "value": 4}, "value": 2}, "domain": false, "title": null, "labelExpr": "datum.value % 10 == 0 ? '-' + abs(datum.value) : ''", "labelBaseline": {"condition": {"test": "datum.value <= -89", "value": "bottom"}, "value": "top"}, "labelFont": "Liberation Sans", "labelFontSize": 11, "labelColor": "#000000", "labelPadding": 1, "labelOverlap": false, "labelFlush": false, "zindex": 1}}
              }
            }
          ]
        }
      ]
    }
  ]
}
